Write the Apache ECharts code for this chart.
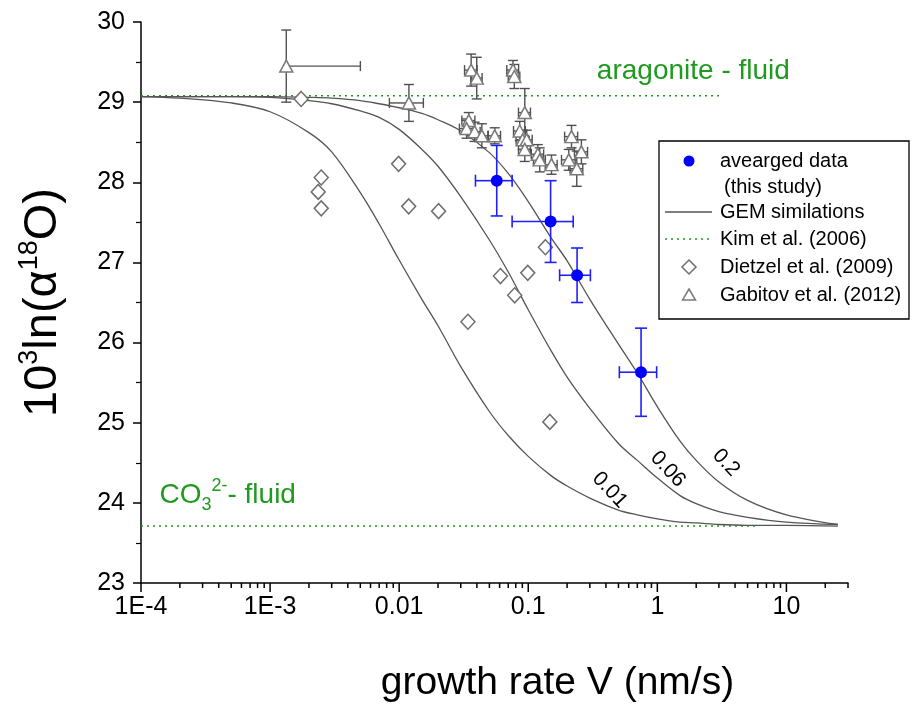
<!DOCTYPE html>
<html><head><meta charset="utf-8">
<script src="https://cdn.jsdelivr.net/npm/echarts@6/dist/echarts.min.js"></script>
<style>html,body{margin:0;padding:0;background:#fff}#c{width:921px;height:708px}</style>
</head><body><div id="c"></div>
<script>
// ---- axis ticks ----
const xTickValues = [1e-4, 1e-3, 0.01, 0.1, 1, 10];
const xTickLabels = ['1E-4', '1E-3', '0.01', '0.1', '1', '10'];
const xMinorTicks = [2e-4,3e-4,4e-4,5e-4,6e-4,7e-4,8e-4,9e-4,
  2e-3,3e-3,4e-3,5e-3,6e-3,7e-3,8e-3,9e-3,
  0.02,0.03,0.04,0.05,0.06,0.07,0.08,0.09,
  0.2,0.3,0.4,0.5,0.6,0.7,0.8,0.9,
  2,3,4,5,6,7,8,9,20,30];

// ---- GEM simulation curves ----
const gemV = [1e-4,2e-4,5e-4,1e-3,2e-3,3e-3,5e-3,7e-3,0.01,0.015,0.02,0.03,0.05,0.07,0.1,0.15,0.2,0.3,0.5,0.7,1,1.5,2,3,5,10,25];
const gem001 = [29.07,29.05,28.99,28.88,28.62,28.38,27.87,27.48,27.03,26.54,26.21,25.70,25.14,24.84,24.58,24.34,24.21,24.06,23.91,23.85,23.80,23.76,23.75,23.73,23.72,23.72,23.71];
const gem006 = [29.07,29.07,29.07,29.06,29.02,28.98,28.89,28.81,28.66,28.41,28.20,27.82,27.28,26.88,26.41,25.90,25.57,25.18,24.74,24.53,24.31,24.09,23.99,23.89,23.82,23.76,23.73];
const gem02  = [29.07,29.07,29.07,29.07,29.06,29.05,29.02,28.98,28.93,28.86,28.78,28.64,28.37,28.11,27.76,27.31,27.02,26.54,25.98,25.62,25.20,24.77,24.53,24.26,24.03,23.85,23.73];
const gemLabels = ['0.01', '0.06', '0.2'];

// ---- Kim et al. (2006) equilibrium lines ----
const kimAragonite = 29.08;
const kimCarbonate = 23.71;
const kimAragoniteV = [1e-4, 3];
const kimCarbonateV = [1e-4, 6];

// ---- averaged data (this study) ----
const avgV = [0.057, 0.149, 0.239, 0.748];
const avgY = [28.02, 27.51, 26.84, 25.63];
const avgVErr = [0.018, 0.074, 0.064, 0.24];
const avgYErr = [0.44, 0.51, 0.34, 0.55];

// ---- Dietzel et al. (2009) ----
const dieV = [0.00174,0.00249,0.00236,0.00249,0.0099,0.01185,0.0202,0.0341,0.0609,0.0785,0.0991,0.1358,0.147];
const dieY = [29.04,28.06,27.88,27.675,28.23,27.70,27.64,26.26,26.83,26.59,26.87,27.19,25.01];

// ---- Gabitov et al. (2012) ----
const gabV = [0.001335,0.0119,0.0361,0.0399,0.0762,0.0780,0.094,0.0346,0.0333,0.0384,0.0437,0.0550,0.0859,0.0905,0.0973,0.094,0.1186,0.1227,0.1514,0.2163,0.258,0.206,0.2376];
const gabY = [29.45,28.99,29.40,29.30,29.40,29.32,28.87,28.77,28.67,28.63,28.58,28.58,28.64,28.53,28.53,28.41,28.35,28.28,28.22,28.57,28.38,28.28,28.17];
const gabVErr = [0.00367,0.0035,0.004,0.004,0.008,0.008,0.01,0.004,0.004,0.004,0.005,0.006,0.009,0.01,0.01,0.01,0.013,0.013,0.016,0.025,0.03,0.025,0.027];
const gabYErr = [0.45,0.23,0.2,0.26,0.12,0.15,0.3,0.1,0.12,0.12,0.15,0.1,0.12,0.12,0.12,0.15,0.12,0.15,0.12,0.14,0.15,0.13,0.22];

const FONT = '"Liberation Sans", Arial, sans-serif';
const GREEN = '#1f9a1f';
const chart = echarts.init(document.getElementById('c'), null, {renderer: 'canvas'});

function zip(a, b) { return a.map((v, i) => [v, b[i]]); }
function errData(v, y, ev, ey) { return v.map((x, i) => [x, y[i], ev[i], ey[i]]); }

function errRender(color, width, cap) {
  return function (params, api) {
    const V = api.value(0), y = api.value(1), ev = api.value(2), ey = api.value(3);
    const c = api.coord([V, y]);
    const t = api.coord([V, y + ey]), b = api.coord([V, y - ey]);
    const st = {stroke: color, lineWidth: width, fill: null};
    const L = (x1, y1, x2, y2) => ({type: 'line', shape: {x1, y1, x2, y2}, style: st});
    const ch = [L(c[0], t[1], c[0], b[1]), L(c[0]-cap, t[1], c[0]+cap, t[1]), L(c[0]-cap, b[1], c[0]+cap, b[1])];
    if (ev > 0) {
      const r = api.coord([V + ev, y]);
      ch.push(L(c[0], c[1], r[0], c[1]), L(r[0], c[1]-cap, r[0], c[1]+cap));
      if (V - ev > 0) {
        const l = api.coord([V - ev, y]);
        ch.push(L(l[0], c[1], c[0], c[1]), L(l[0], c[1]-cap, l[0], c[1]+cap));
      }
    }
    return {type: 'group', children: ch};
  };
}

const tickData = xTickValues.map(v => [v, 23, 1]).concat(xMinorTicks.map(v => [v, 23, 0]));

const curveStyle = {color: '#555', width: 1.3};
function gemSeries(name, ys) {
  return {type: 'line', name, data: zip(gemV, ys), showSymbol: false, smooth: 0.35,
    lineStyle: curveStyle, itemStyle: {color: '#555'}, z: 2, silent: true};
}

chart.setOption({
  animation: false,
  textStyle: {fontFamily: FONT},
  grid: {left: 141, right: 73, top: 22, bottom: 123, containLabel: false},
  xAxis: {
    type: 'log', logBase: 10, min: 1e-4, max: 30,
    axisLine: {lineStyle: {color: '#000', width: 1.5}},
    axisTick: {show: false}, minorTick: {show: false}, splitLine: {show: false},
    axisLabel: {
      color: '#000', fontSize: 25, fontFamily: FONT, margin: 12, showMaxLabel: false,
      formatter: function (v) {
        const e = Math.log10(v), r = Math.round(e);
        if (Math.abs(e - r) > 1e-6) return '';
        const i = xTickValues.findIndex(t => Math.abs(Math.log10(t) - r) < 1e-6);
        return i >= 0 ? xTickLabels[i] : '';
      }
    },
    name: 'growth rate V (nm/s)', nameLocation: 'middle', nameGap: 81,
    nameTextStyle: {fontSize: 39, color: '#000', fontFamily: FONT, padding: [0, 0, 0, 126]}
  },
  yAxis: {
    type: 'value', min: 23, max: 30, interval: 1,
    axisLine: {show: true, lineStyle: {color: '#000', width: 1.5}},
    axisTick: {show: true, length: 8, lineStyle: {color: '#000', width: 1.5}},
    minorTick: {show: true, splitNumber: 2, length: 5, lineStyle: {color: '#000', width: 1.2}},
    splitLine: {show: false},
    axisLabel: {color: '#000', fontSize: 25, fontFamily: FONT, margin: 16},
    name: '10{sup|3}ln(\u03b1{sup|18}O)', nameLocation: 'middle', nameRotate: 90, nameGap: 70,
    nameTextStyle: {fontSize: 47, color: '#000', fontFamily: FONT, lineHeight: 55,
      rich: {sup: {fontSize: 27, verticalAlign: 'top', lineHeight: 55, fontFamily: FONT, color: '#000'}}}
  },
  series: [
    {type: 'custom', name: 'xticks', data: tickData, clip: false, silent: true, z: 5,
      encode: {x: 0, y: 1},
      renderItem: function (params, api) {
        const p = api.coord([api.value(0), api.value(1)]);
        const len = api.value(2) ? 9 : 5;
        return {type: 'line', shape: {x1: p[0], y1: p[1], x2: p[0], y2: p[1] + len},
          style: {stroke: '#000', lineWidth: 1.5}};
      }},
    {type: 'line', name: 'Kim aragonite', data: kimAragoniteV.map(v => [v, kimAragonite]), showSymbol: false,
      lineStyle: {color: GREEN, width: 1.5, type: [2, 4]}, z: 1, silent: true},
    {type: 'line', name: 'Kim carbonate', data: kimCarbonateV.map(v => [v, kimCarbonate]), showSymbol: false,
      lineStyle: {color: GREEN, width: 1.5, type: [2, 4]}, z: 1, silent: true},
    gemSeries('GEM 0.01', gem001),
    gemSeries('GEM 0.06', gem006),
    gemSeries('GEM 0.2', gem02),
    {type: 'scatter', name: 'Dietzel', data: zip(dieV, dieY), symbol: 'diamond', symbolSize: [14, 15],
      itemStyle: {color: '#fff', borderColor: '#6e6e6e', borderWidth: 1.5, opacity: 1}, z: 3},
    {type: 'custom', name: 'Gabitov err', data: errData(gabV, gabY, gabVErr, gabYErr), encode: {x: 0, y: 1},
      renderItem: errRender('#505050', 1.4, 5), z: 3, silent: true},
    {type: 'scatter', name: 'Gabitov', data: zip(gabV, gabY), symbol: 'triangle', symbolSize: [13, 12],
      itemStyle: {color: '#fff', borderColor: '#7a7a7a', borderWidth: 1.5, opacity: 1}, z: 4},
    {type: 'custom', name: 'avg err', data: errData(avgV, avgY, avgVErr, avgYErr), encode: {x: 0, y: 1},
      renderItem: errRender('#1f1fff', 1.6, 6), z: 5, silent: true},
    {type: 'scatter', name: 'averaged', data: zip(avgV, avgY), symbol: 'circle', symbolSize: 12,
      itemStyle: {color: '#0000ff', opacity: 1}, z: 6}
  ]
});

// ---- annotations anchored in data space + legend ----
const P = (v, y) => chart.convertToPixel({gridIndex: 0}, [v, y]);
const gemLabelAnchors = [[0.428, 24.16], [1.206, 24.42], [3.40, 24.50]];
const g = [];
const a1 = P(0.34, 29.38);
g.push({type: 'text', x: a1[0], y: a1[1], style: {text: 'aragonite - fluid', fill: GREEN, fontSize: 28, fontFamily: FONT, verticalAlign: 'middle'}});
const a2 = P(1.39e-4, 24.09);
g.push({type: 'text', x: a2[0], y: a2[1], style: {text: 'CO{sub|3}{sup|2-}- fluid', fill: GREEN, fontSize: 28, fontFamily: FONT, verticalAlign: 'middle', lineHeight: 37,
  rich: {sub: {fontSize: 18, verticalAlign: 'bottom', lineHeight: 37, fill: GREEN, fontFamily: FONT},
         sup: {fontSize: 18, verticalAlign: 'top', lineHeight: 37, fill: GREEN, fontFamily: FONT}}}});
gemLabelAnchors.forEach((p, i) => {
  const q = P(p[0], p[1]);
  g.push({type: 'text', x: q[0], y: q[1], rotation: -47 * Math.PI / 180,
    style: {text: gemLabels[i], fill: '#000', fontSize: 21, fontFamily: FONT, align: 'center', verticalAlign: 'middle'}});
});
// legend
const LX = 659, LY = 141, LW = 250, LH = 178, fs = 20, tx = 720;
g.push({type: 'rect', shape: {x: LX, y: LY, width: LW, height: LH}, style: {fill: '#fff', stroke: '#000', lineWidth: 1.3}, z: 10});
const lt = (t, x, y) => ({type: 'text', x, y, z: 11, style: {text: t, fill: '#000', fontSize: fs, fontFamily: FONT, verticalAlign: 'middle'}});
g.push({type: 'circle', shape: {cx: 689, cy: 161, r: 5.5}, style: {fill: '#0000ff'}, z: 11});
g.push(lt('avearged data', tx, 161));
g.push(lt('(this study)', tx + 4, 187));
g.push({type: 'line', shape: {x1: 665, y1: 212, x2: 712, y2: 212}, style: {stroke: '#555', lineWidth: 1.3}, z: 11});
g.push(lt('GEM similations', tx, 212));
g.push({type: 'line', shape: {x1: 665, y1: 239, x2: 712, y2: 239}, style: {stroke: GREEN, lineWidth: 1.5, lineDash: [2, 4]}, z: 11});
g.push(lt('Kim et al. (2006)', tx, 239));
g.push({type: 'polygon', shape: {points: [[689, 260], [696, 267], [689, 274], [682, 267]]}, style: {fill: '#fff', stroke: '#6e6e6e', lineWidth: 1.5}, z: 11});
g.push(lt('Dietzel et al. (2009)', tx, 267));
g.push({type: 'polygon', shape: {points: [[689, 289], [695.5, 300], [682.5, 300]]}, style: {fill: '#fff', stroke: '#7a7a7a', lineWidth: 1.5}, z: 11});
g.push(lt('Gabitov et al. (2012)', tx, 295));
chart.setOption({graphic: g});
</script></body></html>
